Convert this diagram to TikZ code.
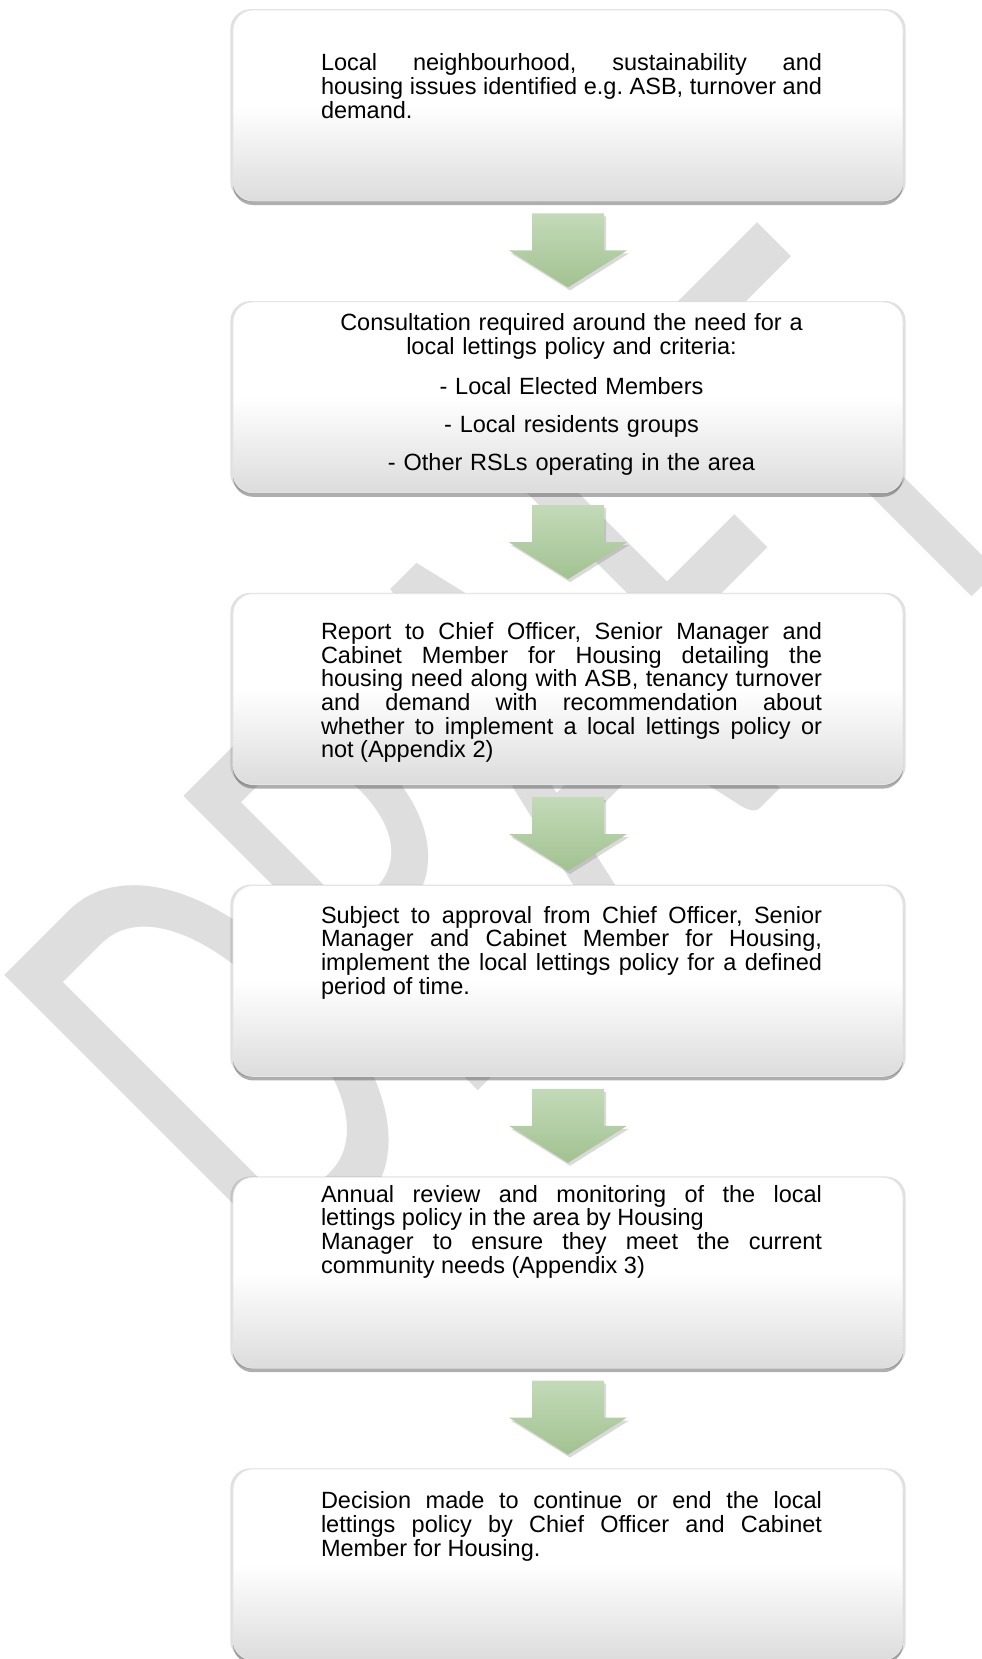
\documentclass[tikz,border=0pt]{standalone}
\usepackage{fontspec}
\setmainfont{Liberation Sans}
\newfontfamily\wmfamily{Carlito}
\usetikzlibrary{positioning,shadows}

\definecolor{wmgray}{HTML}{DEDEDE}
\definecolor{boxgray}{HTML}{DCDCDC}
\definecolor{arrowtop}{HTML}{C3DAB8}
\definecolor{arrowbot}{HTML}{A2C291}

\frenchspacing
\tolerance=10000
\hyphenpenalty=10000

\tikzset{
  stepbox/.style={rectangle, rounded corners=20pt, minimum width=670pt, minimum height=191pt,
    inner sep=0pt, draw=black!10, line width=.8pt,
    top color=white, bottom color=boxgray, middle color=white,
    general shadow={shadow scale=1.008, opacity=.12, fill=black},
    drop shadow={shadow xshift=0pt, shadow yshift=-4pt, opacity=.45, fill=black!70}},
  steptext/.style={text width=501pt, align=justify, inner sep=0pt,
    font=\fontsize{23.5}{23.7}\selectfont},
  downarrow/.style={top color=arrowtop, bottom color=arrowbot,
    drop shadow={shadow xshift=2pt, shadow yshift=-3pt, opacity=.3}},
  watermark/.style={font=\wmfamily\fontsize{649}{649}\selectfont, text=wmgray,
    rotate=45, xscale=0.63, inner sep=0pt}
}

\begin{document}
\begin{tikzpicture}[x=1pt, y=-1pt]
\useasboundingbox (0,0) rectangle (982,1659);

% watermark behind everything
\node[watermark] (wm) at (520,754) {DRAFT};

% the six steps
\node[stepbox] (box1) at (568,105.5) {};
\node[stepbox, below=100pt of box1] (box2) {};
\node[stepbox, below=100pt of box2] (box3) {};
\node[stepbox, below=100pt of box3] (box4) {};
\node[stepbox, below=100pt of box4] (box5) {};
\node[stepbox, below=100pt of box5] (box6) {};

% block arrows between the steps
\foreach \i in {1,...,5} {
  \coordinate (tail\i) at ([yshift=-12pt]box\i.south);
  \path[downarrow] ([xshift=-36pt]tail\i) -- ([xshift=36pt]tail\i)
    -- ([xshift=36pt,yshift=-37pt]tail\i) -- ([xshift=59pt,yshift=-37pt]tail\i)
    -- ([yshift=-74pt]tail\i) -- ([xshift=-59pt,yshift=-37pt]tail\i)
    -- ([xshift=-36pt,yshift=-37pt]tail\i) -- cycle;
}

\node[steptext, below=44pt of box1.north, xshift=3.5pt] (t1) {Local neighbourhood, sustainability and\linebreak
  housing issues identified e.g. ASB, turnover and\linebreak demand.};
\node[steptext, align=center, below=12pt of box2.north, xshift=3.5pt] (t2) {Consultation required around the need for a\\
  local lettings policy and criteria:\\[16pt]
  - Local Elected Members\\[14.3pt]
  - Local residents groups\\[14.3pt]
  - Other RSLs operating in the area};
\node[steptext, below=29pt of box3.north, xshift=3.5pt] (t3) {Report to Chief Officer, Senior Manager and\linebreak
  Cabinet Member for Housing detailing the\linebreak
  housing need along with ASB, tenancy turnover\linebreak
  and demand with recommendation about\linebreak
  whether to implement a local lettings policy or\linebreak
  not (Appendix 2)};
\node[steptext, below=21pt of box4.north, xshift=3.5pt] (t4) {Subject to approval from Chief Officer, Senior\linebreak
  Manager and Cabinet Member for Housing,\linebreak
  implement the local lettings policy for a defined\linebreak
  period of time.};
\node[steptext, below=8pt of box5.north, xshift=3.5pt] (t5) {Annual review and monitoring of the local\linebreak
  lettings policy in the area by Housing\\
  Manager to ensure they meet the current\linebreak
  community needs (Appendix 3)};
\node[steptext, below=23pt of box6.north, xshift=3.5pt] (t6) {Decision made to continue or end the local\linebreak
  lettings policy by Chief Officer and Cabinet\linebreak
  Member for Housing.};
\end{tikzpicture}
\end{document}
